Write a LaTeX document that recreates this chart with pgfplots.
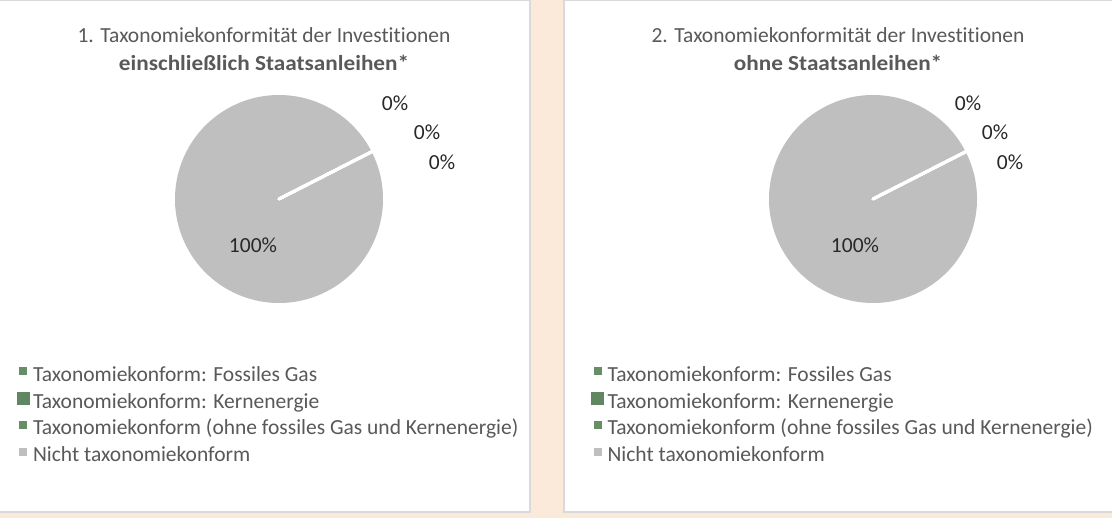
\documentclass[border=0pt]{standalone}
\usepackage{pgfplots}
\pgfplotsset{compat=1.18}
\usepackage{pgfplotstable}
\usepackage{graphicx}
\usepackage{fontspec}
\setmainfont{Carlito}[Ligatures={NoCommon,NoRequired,NoContextual}]
\definecolor{bg}{RGB}{251,233,217}
\definecolor{panelborder}{RGB}{217,217,217}
\definecolor{piegray}{RGB}{191,191,191}
\definecolor{gasgreen}{RGB}{104,142,104}
\definecolor{nucgreen}{RGB}{96,134,98}
\definecolor{taxgreen}{RGB}{104,142,104}
\definecolor{txtgray}{RGB}{89,89,89}
\definecolor{lblgray}{RGB}{40,40,40}

\pgfplotstableread{
cat value
gas 0
nuc 0
tax 0
not 100
}\dataA
\pgfplotstableread{
cat value
gas 0
nuc 0
tax 0
not 100
}\dataB

\newcommand{\pieslices}[5]{%
 \xdef\cum{0}%
 \foreach \i/\col in {0/gasgreen,1/nucgreen,2/taxgreen,3/piegray}{%
   \pgfplotstablegetelem{\i}{value}\of{#1}%
   \let\v\pgfplotsretval
   \pgfmathsetmacro{\a}{#5-\cum*3.6}%
   \pgfmathsetmacro{\b}{#5-(\cum+\v)*3.6}%
   \ifdim\v pt>0pt
     \fill[\col] (axis cs:#2,#3) -- ++(\a:#4pt) arc[start angle=\a,end angle=\b,radius=#4pt] -- cycle;
   \fi
   \pgfmathsetmacro{\c}{\cum+\v}\xdef\cum{\c}%
 }%
 \xdef\cum{0}%
 \foreach \i in {0,...,3}{%
   \pgfplotstablegetelem{\i}{value}\of{#1}%
   \let\v\pgfplotsretval
   \pgfmathsetmacro{\a}{#5-\cum*3.6}%
   \draw[white,line width=3pt,line cap=round] (axis cs:#2,#3) -- ++(\a:#4pt);
   \pgfmathsetmacro{\c}{\cum+\v}\xdef\cum{\c}%
 }%
}

\newcommand{\fnt}{\fontsize{21.5}{26}\selectfont}
\newcommand{\invest}{Invest\kern0pt it\kern0pt ionen}

\pgfplotsset{
  panel/.style={
    anchor=south west, scale only axis, hide axis, clip=false,
    legend cell align=left,
    legend style={draw=none, fill=none, anchor=north west,
      font=\fnt\color{txtgray},
      /tikz/every odd column/.append style={column sep=2pt},
      nodes={inner xsep=2pt, inner ysep=3.1pt, text height=15pt, text depth=5.5pt}},
  },
  smallkey/.style={legend image code/.code={\fill[#1] (2.5pt,2pt) rectangle (9.5pt,9pt);}},
  bigkey/.style={legend image code/.code={\fill[#1] (0pt,-0.5pt) rectangle (12pt,11.5pt);}},
}

\begin{document}
\begin{tikzpicture}
\path[use as bounding box] (0,0) rectangle (1112pt,518pt);
\fill[bg] (0,0) rectangle (1112pt,518pt);
\fill[panelborder] (0,5pt) rectangle (531pt,518pt);
\fill[white] (0,7pt) rectangle (529pt,516.5pt);
\fill[panelborder] (563pt,5pt) rectangle (1112pt,518pt);
\fill[white] (565pt,7pt) rectangle (1112pt,516.5pt);

% titles
\node[font=\fnt, text=txtgray, anchor=base] at (264pt,475.5pt) {1. Taxonomiekonformität der \invest};
\node[font=\fnt\bfseries, text=txtgray, anchor=base] at (264pt,447.5pt) {\scalebox{1.08}[1]{einschließlich Staatsanleihen*}};
\node[font=\fnt, text=txtgray, anchor=base] at (838pt,475.5pt) {2. Taxonomiekonformität der \invest};
\node[font=\fnt\bfseries, text=txtgray, anchor=base] at (838pt,447.5pt) {\scalebox{1.08}[1]{ohne Staatsanleihen*}};

\begin{axis}[panel, at={(0pt,5pt)}, width=531pt, height=513pt,
  xmin=0, xmax=531, ymin=5, ymax=518,
  legend style={at={(0.0254,0.296)}}]
  \addlegendimage{smallkey=gasgreen}
  \addlegendentry{Taxonomiekonform: Fossiles Gas}
  \addlegendimage{bigkey=nucgreen}
  \addlegendentry{Taxonomiekonform: Kernenergie}
  \addlegendimage{smallkey=taxgreen}
  \addlegendentry{Taxonomiekonform (ohne fossiles Gas und Kernenergie)}
  \addlegendimage{smallkey=piegray}
  \addlegendentry{Nicht taxonomiekonform}
  \pgfplotsextra{\pieslices{\dataA}{279}{319}{104}{27}}
  \node[font=\fnt, text=lblgray] at (axis cs:395,415) {0\%};
  \node[font=\fnt, text=lblgray] at (axis cs:427,386) {0\%};
  \node[font=\fnt, text=lblgray] at (axis cs:442,356) {0\%};
  \node[font=\fnt, text=lblgray] at (axis cs:253,273) {100\%};
\end{axis}

\begin{axis}[panel, at={(563pt,5pt)}, width=549pt, height=513pt,
  xmin=563, xmax=1112, ymin=5, ymax=518,
  legend style={at={(0.0455,0.296)}}]
  \addlegendimage{smallkey=gasgreen}
  \addlegendentry{Taxonomiekonform: Fossiles Gas}
  \addlegendimage{bigkey=nucgreen}
  \addlegendentry{Taxonomiekonform: Kernenergie}
  \addlegendimage{smallkey=taxgreen}
  \addlegendentry{Taxonomiekonform (ohne fossiles Gas und Kernenergie)}
  \addlegendimage{smallkey=piegray}
  \addlegendentry{Nicht taxonomiekonform}
  \pgfplotsextra{\pieslices{\dataB}{873}{319}{104}{27}}
  \node[font=\fnt, text=lblgray] at (axis cs:968,415) {0\%};
  \node[font=\fnt, text=lblgray] at (axis cs:995,386) {0\%};
  \node[font=\fnt, text=lblgray] at (axis cs:1010,356) {0\%};
  \node[font=\fnt, text=lblgray] at (axis cs:855,273) {100\%};
\end{axis}
\end{tikzpicture}
\end{document}
